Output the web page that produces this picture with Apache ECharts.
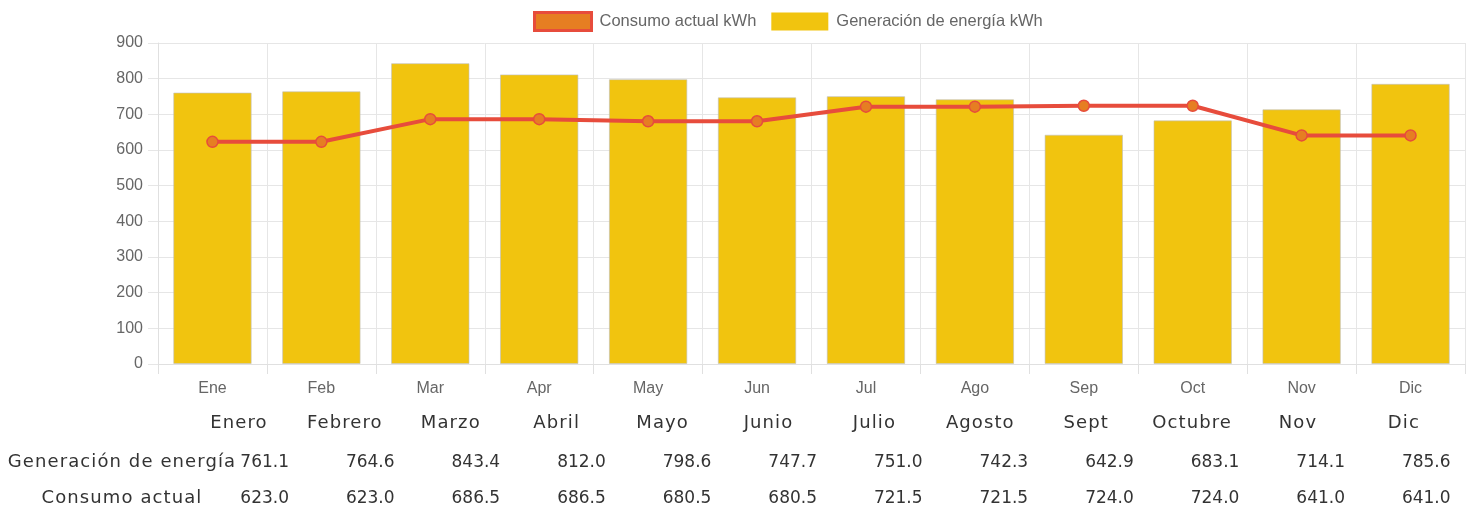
<!DOCTYPE html>
<html><head><meta charset="utf-8">
<script src="https://cdn.jsdelivr.net/npm/echarts@6/dist/echarts.min.js"></script>
<style>
html,body{margin:0;padding:0;background:#fff;}
#wrap{position:relative;width:1473px;height:511px;}
#c{position:absolute;left:0;top:0;width:1473px;height:511px;}
.t{position:absolute;font-family:"DejaVu Sans",sans-serif;color:#333;white-space:nowrap;line-height:1;transform:translateY(-50%);}
.w{font-size:18px;letter-spacing:1.1px;}
.n{font-size:17px;}
</style>
</head><body><div id="wrap"><div id="c"></div></div>
<script>
const categories = ['Ene','Feb','Mar','Apr','May','Jun','Jul','Ago','Sep','Oct','Nov','Dic'];
const monthNames = ['Enero','Febrero','Marzo','Abril','Mayo','Junio','Julio','Agosto','Sept','Octubre','Nov','Dic'];
const generacion = [761.1,764.6,843.4,812.0,798.6,747.7,751.0,742.3,642.9,683.1,714.1,785.6];
const consumo = [623.0,623.0,686.5,686.5,680.5,680.5,721.5,721.5,724.0,724.0,641.0,641.0];
const rowLabels = ['Generación de energía','Consumo actual'];
const seriesNames = ['Consumo actual kWh','Generación de energía kWh'];

const wrap = document.getElementById('wrap');
function addText(txt, cls, x, y, align){
  const d = document.createElement('div');
  d.className = 't ' + cls;
  d.textContent = txt;
  d.style.top = y + 'px';
  wrap.appendChild(d);
  const w = d.getBoundingClientRect().width;
  let left = x;
  if (align === 'center') left = x - w/2;
  else if (align === 'right') left = x - w;
  d.style.left = left + 'px';
}
monthNames.forEach((m,i)=> addText(m, 'w', 239 + i*105.9, 422, 'center'));
[generacion, consumo].forEach((arr,r)=>{
  const y = r===0 ? 461 : 497;
  addText(rowLabels[r], 'w', 122, y, 'center');
  arr.forEach((v,i)=> addText(v.toFixed(1), 'n', 289 + i*105.6, y, 'right'));
});

const chart = echarts.init(document.getElementById('c'), null, {renderer:'canvas'});
chart.setOption({
  animation:false,
  textStyle:{fontFamily:'"Liberation Sans", Arial, sans-serif'},
  legend:{
    top:11, left:533, itemWidth:57, itemHeight:18, itemGap:15, padding:0,
    textStyle:{color:'#666', fontSize:16.5, padding:[0,0,0,3], fontFamily:'"Liberation Sans", Arial, sans-serif'},
    data:[
      {name:seriesNames[0], icon:'rect', itemStyle:{color:'#e67e22', borderColor:'#e74c3c', borderWidth:3}},
      {name:seriesNames[1], icon:'rect', itemStyle:{color:'#f1c40f', borderColor:'#f1c40f', borderWidth:0}}
    ]
  },
  grid:{left:158, right:8, top:43, bottom:147, containLabel:false},
  xAxis:{
    type:'category', data:categories, boundaryGap:true,
    axisLine:{show:true, lineStyle:{color:'#e0e0e0'}},
    axisTick:{show:true, length:10, interval:0, lineStyle:{color:'#e0e0e0'}},
    splitLine:{show:true, interval:0, lineStyle:{color:'#e6e6e6'}},
    axisLabel:{color:'#666', fontSize:16, margin:17, interval:0}
  },
  yAxis:{
    type:'value', min:0, max:900, interval:100,
    axisLine:{show:true, lineStyle:{color:'#e0e0e0'}},
    axisTick:{show:true, length:10, lineStyle:{color:'#e6e6e6'}},
    splitLine:{show:true, lineStyle:{color:'#e6e6e6'}},
    axisLabel:{color:'#666', fontSize:16, margin:15}
  },
  series:[
    {name:seriesNames[0], type:'line', data:consumo, z:5,
     symbol:'circle', symbolSize:11,
     lineStyle:{color:'#e74c3c', width:4},
     itemStyle:{color:'#e67e22', borderColor:'#e74c3c', borderWidth:1.5}},
    {name:seriesNames[1], type:'bar', data:generacion, z:2,
     barCategoryGap:'28%',
     itemStyle:{color:'#f1c40f', borderColor:'rgba(190,190,190,0.6)', borderWidth:1}}
  ]
});
</script></body></html>
